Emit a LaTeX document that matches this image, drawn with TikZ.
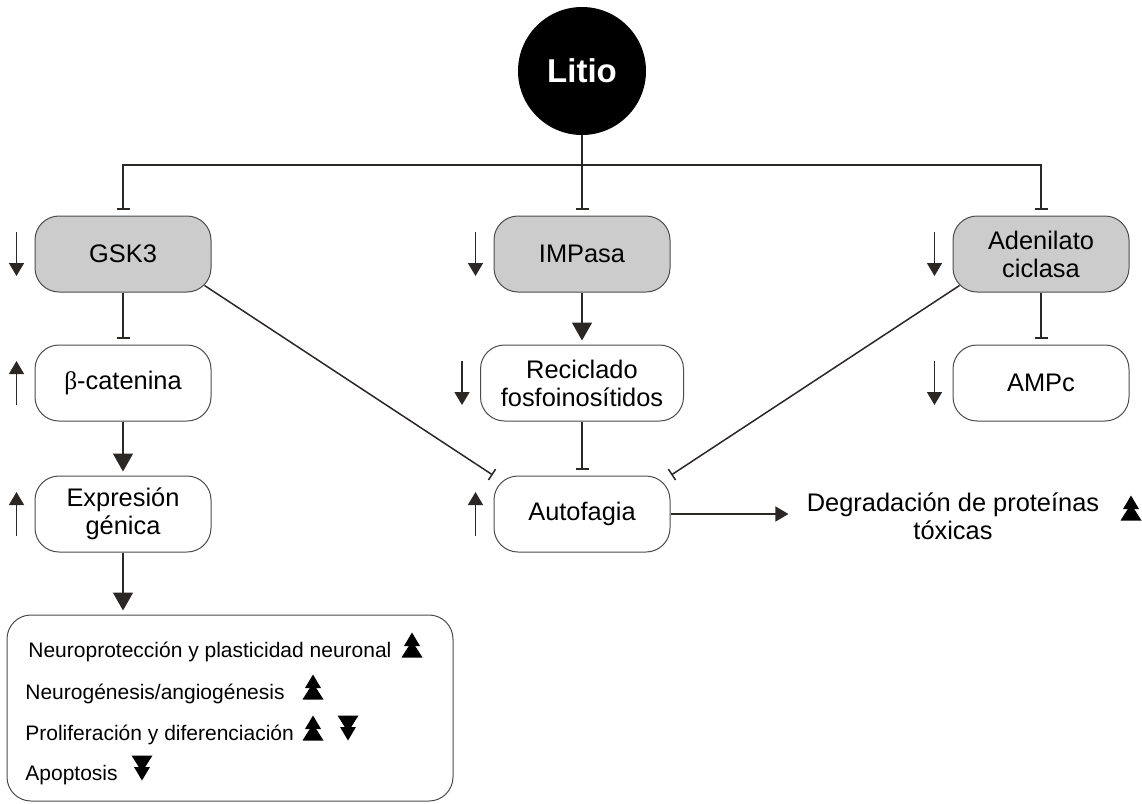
\documentclass[tikz,border=0pt]{standalone}
\usepackage{fontspec}
\setmainfont{Liberation Sans}
\newfontfamily\greekfont{Liberation Serif}
\usetikzlibrary{arrows.meta,calc}
\definecolor{lineclr}{HTML}{2B2725}

\begin{document}
\begin{tikzpicture}[
    x=0.5pt, y=-0.5pt,
    font=\fontsize{12.7}{14}\selectfont,
    box/.style={rectangle, rounded corners=12pt, draw=black!70, line width=0.5pt, fill=white,
      minimum width=88pt, minimum height=38pt, align=center, inner sep=2pt},
    target/.style={box, fill=gray!40},
    link/.style={line width=0.75pt, draw=lineclr},
    inhib/.style={link, -{Bar[width=6.5pt]}, shorten >=3pt},
    act/.style={link, -{Triangle[width=10pt, length=9pt]}, shorten >=2pt},
    ind/.style={link, -{Triangle[width=7.5pt, length=6.5pt]}},
    effect/.style={font=\fontsize{10.5}{13}\selectfont, anchor=base west, inner sep=0pt},
    dbl/.pic={
      \fill[black] (0,-12.5) -- (8,1) -- (-8,1) -- cycle;
      \fill[black] (0,-4) -- (10.5,12.5) -- (-10.5,12.5) -- cycle;
    }
  ]

  \useasboundingbox (0,0) rectangle (1142,804);

  % --- Litio ---
  \node[circle, fill=black, minimum size=64pt, inner sep=0pt, text=white,
    font=\bfseries\fontsize{16.5}{18}\selectfont] (litio) at (582,71) {Litio};
  \coordinate (bus) at (582,165);

  % --- Targets ---
  \node[target] (gsk) at (123,254) {GSK3};
  \node[target] (imp) at (582,254) {IMPasa};
  \node[target] (ade) at (1041,254) {Adenilato\\ciclasa};

  \node[box] (bcat) at (123,383) {{\greekfont β}-catenina};
  \node[box, minimum width=101.5pt] (recic) at (582,383) {Reciclado\\fosfoinosítidos};
  \node[box] (ampc) at (1041,383) {AMPc};

  \node[box] (expr) at (123,514) {Expresión\\génica};
  \node[box] (auto) at (582,514) {Autofagia};
  \node[align=center, inner sep=0pt] (degr) at (953,516) {Degradación de proteínas\\tóxicas};

  \node[box, minimum width=223pt, minimum height=93pt] (eff) at (230,708) {};
  \node[effect] (eff1) at (28,657) {Neuroprotección y plasticidad neuronal};
  \node[effect] (eff2) at (25,699) {Neurogénesis/angiogénesis};
  \node[effect] (eff3) at (25,740) {Proliferación y diferenciación};
  \node[effect] (eff4) at (25,780) {Apoptosis};

  % --- Up / down marks ---
  \pic at (412,645) {dbl};
  \pic at (313,687) {dbl};
  \pic at (313,728) {dbl};
  \pic[yscale=-1] at (348,728) {dbl};
  \pic[yscale=-1] at (142,768) {dbl};
  \pic at (1131,508) {dbl};

  \foreach \n/\d in {gsk/1, imp/1, ade/1, bcat/-1, recic/1, ampc/1, expr/-1, auto/-1} {
    \draw[ind] ([shift={(-18,-22*\d)}]\n.west) -- ([shift={(-18,22*\d)}]\n.west);
  }

  % --- Connectors ---
  \draw[inhib] (litio) -- (imp);
  \draw[inhib] (bus) -| (gsk);
  \draw[inhib] (bus) -| (ade);

  \draw[inhib] (gsk) -- (bcat);
  \draw[act] (bcat) -- (expr);
  \draw[act] (expr) -- (expr |- eff.north);

  \draw[act] (imp) -- (recic);
  \draw[inhib] (recic) -- (auto);
  \draw[inhib] (ade) -- (ampc);

  \draw[inhib, shorten >=0.5pt] ([shift={(-7,-7)}]gsk.south east) -- (auto.north west);
  \draw[inhib, shorten >=0.5pt] ([shift={(7,-7)}]ade.south west) -- (auto.north east);
  \draw[ind, shorten >=9pt] (auto.east) -- (auto.east -| degr.west);

\end{tikzpicture}
\end{document}
